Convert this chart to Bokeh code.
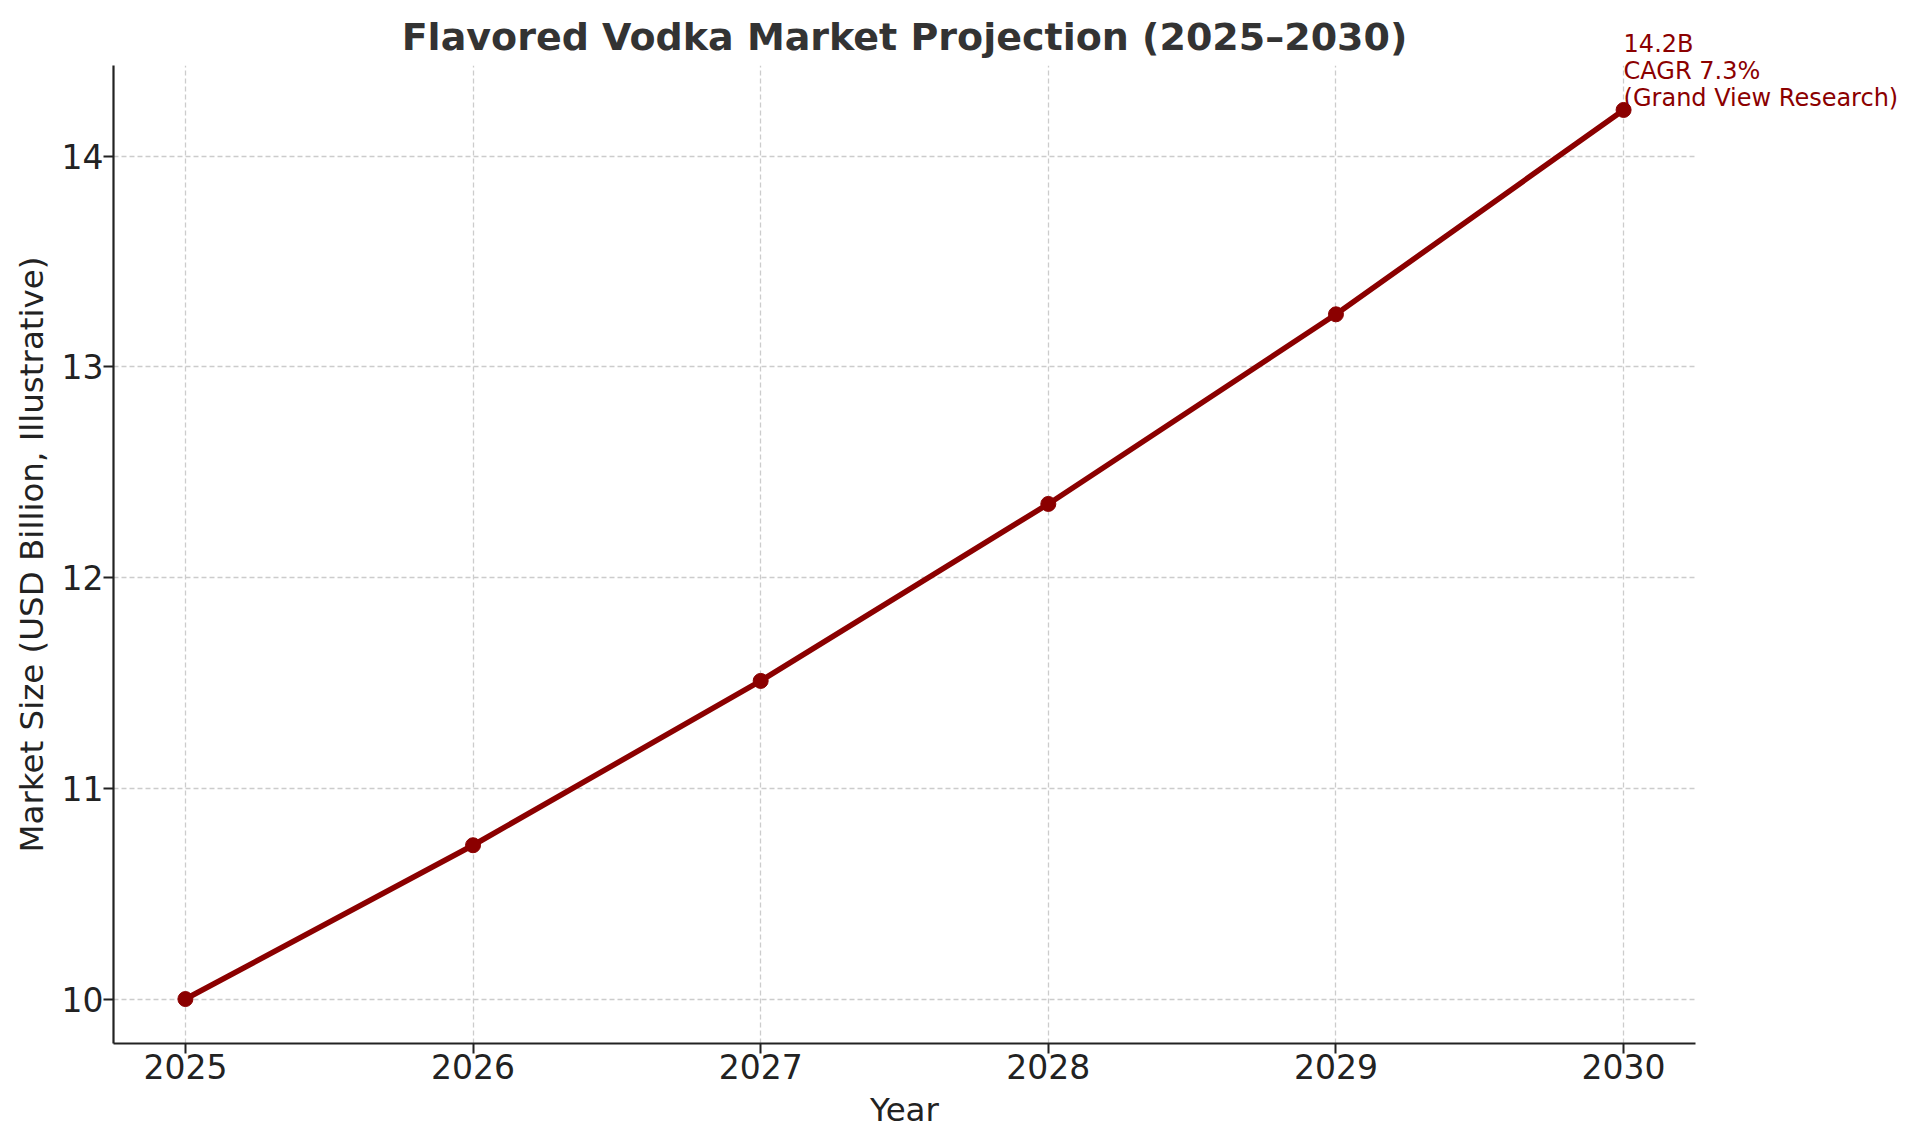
from bokeh.plotting import figure
from bokeh.models import Range1d, FixedTicker, ColumnDataSource
from bokeh.core.properties import value
from bokeh.embed import file_html
from bokeh.resources import INLINE

years = [2025, 2026, 2027, 2028, 2029, 2030]
market_size = [10.0, 10.73, 11.51, 12.35, 13.25, 14.22]
y_ticks = [10, 11, 12, 13, 14]
annotation_lines = ["14.2B", "CAGR 7.3%", "(Grand View Research)"]

title_text = "Flavored Vodka Market Projection (2025\u20132030)"
x_label = "Year"
y_label = "Market Size (USD Billion, Illustrative)"

RED = "#8b0000"
FONT = "DejaVu Sans"

src = ColumnDataSource(dict(x=years, y=market_size))

pad_x = (max(years) - min(years)) * 0.05
pad_y = (max(market_size) - min(market_size)) * 0.05

p = figure(
    frame_width=1582, frame_height=978,
    min_border_left=113, min_border_right=209,
    min_border_top=65, min_border_bottom=86,
    x_range=Range1d(min(years) - pad_x, max(years) + pad_x),
    y_range=Range1d(min(market_size) - pad_y, max(market_size) + pad_y),
    output_backend="svg", toolbar_location=None,
    title=title_text,
)
p.outline_line_color = None
p.background_fill_color = "white"
p.border_fill_color = "white"

p.title.align = "center"
p.title.text_font = FONT
p.title.text_font_size = "38px"
p.title.text_font_style = "bold"
p.title.text_color = "#333333"
p.title.standoff = 14

p.line("x", "y", source=src, line_color=RED, line_width=5.5)
p.scatter("x", "y", source=src, size=15, fill_color=RED, line_color=RED)

# annotation at last point (lines stacked upward from the point);
# drawn at overlay level so that it may extend past the plot frame
n = len(annotation_lines)
ann = ColumnDataSource(dict(
    x=[years[-1]] * n,
    y=[market_size[-1]] * n,
    t=annotation_lines,
    dy=[-12 - 27 * (n - 1 - i) for i in range(n)],
))
p.text("x", "y", text="t", source=ann, y_offset="dy", x_offset=0,
       text_font=value(FONT), text_font_size="24px", text_color=RED,
       text_baseline="alphabetic", text_align="left", level="overlay")

for ax in (p.xaxis[0], p.yaxis[0]):
    ax.axis_line_color = "#222222"
    ax.axis_line_width = 2.2
    ax.major_tick_line_color = "#222222"
    ax.major_tick_line_width = 2
    ax.major_tick_out = 10
    ax.major_tick_in = 0
    ax.minor_tick_line_color = None
    ax.major_label_text_font = FONT
    ax.major_label_text_font_size = "33px"
    ax.major_label_text_color = "#222222"
    ax.axis_label_text_font = FONT
    ax.axis_label_text_font_size = "32.5px"
    ax.axis_label_text_font_style = "normal"
    ax.axis_label_text_color = "#222222"

p.xaxis.ticker = FixedTicker(ticks=years)
p.yaxis.ticker = FixedTicker(ticks=y_ticks)
p.xaxis.axis_label = x_label
p.yaxis.axis_label = y_label
p.xaxis.major_label_standoff = 0
p.yaxis.major_label_standoff = 0
p.xaxis.axis_label_standoff = 9
p.yaxis.axis_label_standoff = 8

for g in (p.xgrid[0], p.ygrid[0]):
    g.grid_line_color = "#cccccc"
    g.grid_line_dash = "5 3"
    g.grid_line_width = 1.3
p.xgrid[0].ticker = FixedTicker(ticks=years)
p.ygrid[0].ticker = FixedTicker(ticks=y_ticks)

open("out.html", "w").write(file_html(p, INLINE))
